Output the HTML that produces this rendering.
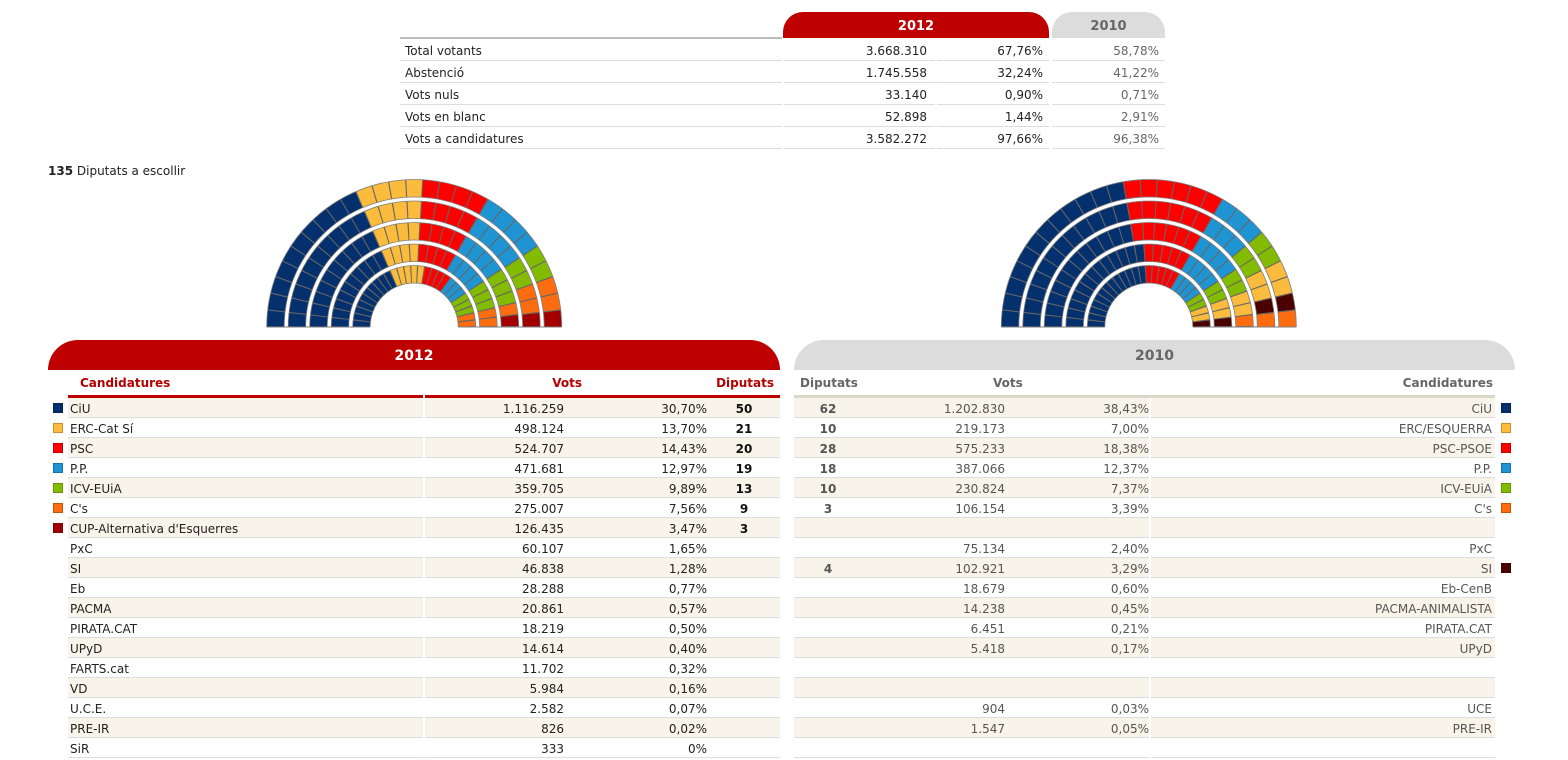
<!DOCTYPE html>
<html><head><meta charset="utf-8">
<style>
html,body{margin:0;padding:0;background:#fff}
body{width:1568px;height:760px;position:relative;overflow:hidden;font-family:"DejaVu Sans","Liberation Sans",Verdana,sans-serif;font-size:12px;color:#222}
.abs{position:absolute}
.tab{position:absolute;top:12px;height:26px;line-height:29px;text-align:center;font-weight:bold;font-size:13px;border-radius:20px 20px 0 0;overflow:hidden}
.tr{position:absolute;left:0;width:1568px;height:22px}
.tr div{position:absolute;top:0;height:21px;line-height:24px;border-bottom:1px solid #dcdcdc;white-space:nowrap;overflow:hidden}
.c1{left:400px;width:377px;padding-left:5px}
.c2{left:784px;width:143px;padding-right:8px;text-align:right}
.c3{left:937px;width:106px;padding-right:6px;text-align:right}
.c4{left:1052px;width:107px;padding-right:6px;text-align:right;color:#666}
.bar{position:absolute;top:340px;height:30px;line-height:33px;text-align:center;font-weight:bold;font-size:14px;border-radius:30px 30px 0 0;overflow:hidden}
.sh{position:absolute;top:370px;height:25px;line-height:27px;font-weight:bold;white-space:nowrap}
.lr,.rr{position:absolute;height:20px}
.lr{left:48px;width:732px}
.rr{left:794px;width:721px;color:#555}
.a,.b{position:absolute;top:0;height:19px;border-bottom:1px solid #ddd}
.lr .a{left:20px;width:355px}
.lr .b{left:377px;width:355px}
.rr .a{left:0;width:355px}
.rr .b{left:357px;width:344px}
.c .a,.c .b{background:#f8f4e9}
.lr span,.rr span{position:absolute;top:0;line-height:22px;white-space:nowrap}
.ln{left:22px}
.lv{right:216px}
.lp{right:73px}
.ld{left:676px;width:40px;text-align:center;font-weight:bold;color:#111}
.rd{left:14px;width:40px;text-align:center;font-weight:bold}
.rv{right:510px}
.rp{right:366px}
.rn{right:23px}
.sq{position:absolute;top:5px;width:10px;height:10px;box-shadow:inset 0 0 0 1px rgba(0,0,0,.22)}
.lr .sq{left:5px}
.rr .sq{left:707px}
</style></head><body>

<!-- top summary table -->
<div class="tab" style="left:783px;width:266px;background:#bf0000;color:#fff">2012</div>
<div class="tab" style="left:1052px;width:113px;background:#dcdcdc;color:#666">2010</div>
<div class="abs" style="left:400px;top:37px;width:382px;height:2px;background:#bbb"></div>

<div class="tr" style="top:39px"><div class="c1">Total votants</div><div class="c2">3.668.310</div><div class="c3">67,76%</div><div class="c4">58,78%</div></div>
<div class="tr" style="top:61px"><div class="c1">Abstenció</div><div class="c2">1.745.558</div><div class="c3">32,24%</div><div class="c4">41,22%</div></div>
<div class="tr" style="top:83px"><div class="c1">Vots nuls</div><div class="c2">33.140</div><div class="c3">0,90%</div><div class="c4">0,71%</div></div>
<div class="tr" style="top:105px"><div class="c1">Vots en blanc</div><div class="c2">52.898</div><div class="c3">1,44%</div><div class="c4">2,91%</div></div>
<div class="tr" style="top:127px"><div class="c1">Vots a candidatures</div><div class="c2">3.582.272</div><div class="c3">97,66%</div><div class="c4">96,38%</div></div>

<div class="abs" style="left:48px;top:164px;line-height:14px;white-space:nowrap"><b>135</b> Diputats a escollir</div>

<!-- parliament charts -->
<svg class="abs" style="left:0;top:0" width="1568" height="340" viewBox="0 0 1568 340">
<defs>
<path id="p1" d="M-138.75 0A138.75 138.75 0 0 1 138.75 0" pathLength="27"/>
<path id="p2" d="M-117.25 0A117.25 117.25 0 0 1 117.25 0" pathLength="27"/>
<path id="p3" d="M-95.75 0A95.75 95.75 0 0 1 95.75 0" pathLength="27"/>
<path id="p4" d="M-74.25 0A74.25 74.25 0 0 1 74.25 0" pathLength="27"/>
<path id="p5" d="M-52.75 0A52.75 52.75 0 0 1 52.75 0" pathLength="27"/>
<path id="ol" d="M-147.5 0A147.5 147.5 0 0 1 147.5 0M-130 0A130 130 0 0 1 130 0M-126 0A126 126 0 0 1 126 0M-108.5 0A108.5 108.5 0 0 1 108.5 0M-104.5 0A104.5 104.5 0 0 1 104.5 0M-87 0A87 87 0 0 1 87 0M-83 0A83 83 0 0 1 83 0M-65.5 0A65.5 65.5 0 0 1 65.5 0M-61.5 0A61.5 61.5 0 0 1 61.5 0M-44 0A44 44 0 0 1 44 0"/>
<g id="ticks" stroke="#666" stroke-width="17.5" fill="none">
<use href="#p1" stroke-dasharray="0.068 0.932" stroke-dashoffset="0.034"/>
<use href="#p2" stroke-dasharray="0.081 0.919" stroke-dashoffset="0.0405"/>
<use href="#p3" stroke-dasharray="0.099 0.901" stroke-dashoffset="0.0495"/>
<use href="#p4" stroke-dasharray="0.127 0.873" stroke-dashoffset="0.0635"/>
<use href="#p5" stroke-dasharray="0.179 0.821" stroke-dashoffset="0.0895"/>
</g>
</defs>

<!-- 2012 -->
<g transform="translate(414.2 327)" fill="none" stroke-width="17.5">
<use href="#p1" stroke="#04306e" stroke-dasharray="10 100"/>
<use href="#p1" stroke="#fbbb3d" stroke-dasharray="0 10 4 100"/>
<use href="#p1" stroke="#fe0000" stroke-dasharray="0 14 4 100"/>
<use href="#p1" stroke="#1e94d2" stroke-dasharray="0 18 4 100"/>
<use href="#p1" stroke="#82bb00" stroke-dasharray="0 22 2 100"/>
<use href="#p1" stroke="#fd6c0f" stroke-dasharray="0 24 2 100"/>
<use href="#p1" stroke="#a20000" stroke-dasharray="0 26 1 100"/>
<use href="#p2" stroke="#04306e" stroke-dasharray="10 100"/>
<use href="#p2" stroke="#fbbb3d" stroke-dasharray="0 10 4 100"/>
<use href="#p2" stroke="#fe0000" stroke-dasharray="0 14 4 100"/>
<use href="#p2" stroke="#1e94d2" stroke-dasharray="0 18 4 100"/>
<use href="#p2" stroke="#82bb00" stroke-dasharray="0 22 2 100"/>
<use href="#p2" stroke="#fd6c0f" stroke-dasharray="0 24 2 100"/>
<use href="#p2" stroke="#a20000" stroke-dasharray="0 26 1 100"/>
<use href="#p3" stroke="#04306e" stroke-dasharray="10 100"/>
<use href="#p3" stroke="#fbbb3d" stroke-dasharray="0 10 4 100"/>
<use href="#p3" stroke="#fe0000" stroke-dasharray="0 14 4 100"/>
<use href="#p3" stroke="#1e94d2" stroke-dasharray="0 18 4 100"/>
<use href="#p3" stroke="#82bb00" stroke-dasharray="0 22 3 100"/>
<use href="#p3" stroke="#fd6c0f" stroke-dasharray="0 25 1 100"/>
<use href="#p3" stroke="#a20000" stroke-dasharray="0 26 1 100"/>
<use href="#p4" stroke="#04306e" stroke-dasharray="10 100"/>
<use href="#p4" stroke="#fbbb3d" stroke-dasharray="0 10 4 100"/>
<use href="#p4" stroke="#fe0000" stroke-dasharray="0 14 4 100"/>
<use href="#p4" stroke="#1e94d2" stroke-dasharray="0 18 4 100"/>
<use href="#p4" stroke="#82bb00" stroke-dasharray="0 22 3 100"/>
<use href="#p4" stroke="#fd6c0f" stroke-dasharray="0 25 2 100"/>
<use href="#p5" stroke="#04306e" stroke-dasharray="10 100"/>
<use href="#p5" stroke="#fbbb3d" stroke-dasharray="0 10 5 100"/>
<use href="#p5" stroke="#fe0000" stroke-dasharray="0 15 4 100"/>
<use href="#p5" stroke="#1e94d2" stroke-dasharray="0 19 3 100"/>
<use href="#p5" stroke="#82bb00" stroke-dasharray="0 22 3 100"/>
<use href="#p5" stroke="#fd6c0f" stroke-dasharray="0 25 2 100"/>
<use href="#ticks"/>
<use href="#ol" stroke="#7d7d7d" stroke-width="0.8"/>
<path d="M-147.5 0H-44M44 0H147.5" stroke="#7d7d7d" stroke-width="1"/>
</g>

<!-- 2010 -->
<g transform="translate(1148.8 327)" fill="none" stroke-width="17.5">
<use href="#p1" stroke="#04306e" stroke-dasharray="12 100"/>
<use href="#p1" stroke="#fe0000" stroke-dasharray="0 12 6 100"/>
<use href="#p1" stroke="#1e94d2" stroke-dasharray="0 18 3 100"/>
<use href="#p1" stroke="#82bb00" stroke-dasharray="0 21 2 100"/>
<use href="#p1" stroke="#fbbb3d" stroke-dasharray="0 23 2 100"/>
<use href="#p1" stroke="#4b0000" stroke-dasharray="0 25 1 100"/>
<use href="#p1" stroke="#fd6c0f" stroke-dasharray="0 26 1 100"/>
<use href="#p2" stroke="#04306e" stroke-dasharray="12 100"/>
<use href="#p2" stroke="#fe0000" stroke-dasharray="0 12 6 100"/>
<use href="#p2" stroke="#1e94d2" stroke-dasharray="0 18 3 100"/>
<use href="#p2" stroke="#82bb00" stroke-dasharray="0 21 2 100"/>
<use href="#p2" stroke="#fbbb3d" stroke-dasharray="0 23 2 100"/>
<use href="#p2" stroke="#4b0000" stroke-dasharray="0 25 1 100"/>
<use href="#p2" stroke="#fd6c0f" stroke-dasharray="0 26 1 100"/>
<use href="#p3" stroke="#04306e" stroke-dasharray="12 100"/>
<use href="#p3" stroke="#fe0000" stroke-dasharray="0 12 6 100"/>
<use href="#p3" stroke="#1e94d2" stroke-dasharray="0 18 4 100"/>
<use href="#p3" stroke="#82bb00" stroke-dasharray="0 22 2 100"/>
<use href="#p3" stroke="#fbbb3d" stroke-dasharray="0 24 2 100"/>
<use href="#p3" stroke="#fd6c0f" stroke-dasharray="0 26 1 100"/>
<use href="#p4" stroke="#04306e" stroke-dasharray="13 100"/>
<use href="#p4" stroke="#fe0000" stroke-dasharray="0 13 5 100"/>
<use href="#p4" stroke="#1e94d2" stroke-dasharray="0 18 4 100"/>
<use href="#p4" stroke="#82bb00" stroke-dasharray="0 22 2 100"/>
<use href="#p4" stroke="#fbbb3d" stroke-dasharray="0 24 2 100"/>
<use href="#p4" stroke="#4b0000" stroke-dasharray="0 26 1 100"/>
<use href="#p5" stroke="#04306e" stroke-dasharray="13 100"/>
<use href="#p5" stroke="#fe0000" stroke-dasharray="0 13 5 100"/>
<use href="#p5" stroke="#1e94d2" stroke-dasharray="0 18 4 100"/>
<use href="#p5" stroke="#82bb00" stroke-dasharray="0 22 2 100"/>
<use href="#p5" stroke="#fbbb3d" stroke-dasharray="0 24 2 100"/>
<use href="#p5" stroke="#4b0000" stroke-dasharray="0 26 1 100"/>
<use href="#ticks"/>
<use href="#ol" stroke="#7d7d7d" stroke-width="0.8"/>
<path d="M-147.5 0H-44M44 0H147.5" stroke="#7d7d7d" stroke-width="1"/>
</g>
</svg>

<!-- left big table -->
<div class="bar" style="left:48px;width:732px;background:#bf0000;color:#fff">2012</div>
<div class="sh" style="left:80px;color:#b30000">Candidatures</div>
<div class="sh" style="left:482px;width:100px;text-align:right;color:#b30000">Vots</div>
<div class="sh" style="left:674px;width:100px;text-align:right;color:#b30000">Diputats</div>
<div class="abs" style="left:68px;top:395px;width:355px;height:3px;background:#bf0000"></div>
<div class="abs" style="left:425px;top:395px;width:355px;height:3px;background:#bf0000"></div>

<div class="lr c" style="top:398px"><div class="a"></div><div class="b"></div><i class="sq" style="background:#04306e"></i><span class="ln">CiU</span><span class="lv">1.116.259</span><span class="lp">30,70%</span><span class="ld">50</span></div>
<div class="lr" style="top:418px"><div class="a"></div><div class="b"></div><i class="sq" style="background:#fbbb3d"></i><span class="ln">ERC-Cat Sí</span><span class="lv">498.124</span><span class="lp">13,70%</span><span class="ld">21</span></div>
<div class="lr c" style="top:438px"><div class="a"></div><div class="b"></div><i class="sq" style="background:#fe0000"></i><span class="ln">PSC</span><span class="lv">524.707</span><span class="lp">14,43%</span><span class="ld">20</span></div>
<div class="lr" style="top:458px"><div class="a"></div><div class="b"></div><i class="sq" style="background:#1e94d2"></i><span class="ln">P.P.</span><span class="lv">471.681</span><span class="lp">12,97%</span><span class="ld">19</span></div>
<div class="lr c" style="top:478px"><div class="a"></div><div class="b"></div><i class="sq" style="background:#82bb00"></i><span class="ln">ICV-EUiA</span><span class="lv">359.705</span><span class="lp">9,89%</span><span class="ld">13</span></div>
<div class="lr" style="top:498px"><div class="a"></div><div class="b"></div><i class="sq" style="background:#fd6c0f"></i><span class="ln">C's</span><span class="lv">275.007</span><span class="lp">7,56%</span><span class="ld">9</span></div>
<div class="lr c" style="top:518px"><div class="a"></div><div class="b"></div><i class="sq" style="background:#a20000"></i><span class="ln">CUP-Alternativa d'Esquerres</span><span class="lv">126.435</span><span class="lp">3,47%</span><span class="ld">3</span></div>
<div class="lr" style="top:538px"><div class="a"></div><div class="b"></div><span class="ln">PxC</span><span class="lv">60.107</span><span class="lp">1,65%</span></div>
<div class="lr c" style="top:558px"><div class="a"></div><div class="b"></div><span class="ln">SI</span><span class="lv">46.838</span><span class="lp">1,28%</span></div>
<div class="lr" style="top:578px"><div class="a"></div><div class="b"></div><span class="ln">Eb</span><span class="lv">28.288</span><span class="lp">0,77%</span></div>
<div class="lr c" style="top:598px"><div class="a"></div><div class="b"></div><span class="ln">PACMA</span><span class="lv">20.861</span><span class="lp">0,57%</span></div>
<div class="lr" style="top:618px"><div class="a"></div><div class="b"></div><span class="ln">PIRATA.CAT</span><span class="lv">18.219</span><span class="lp">0,50%</span></div>
<div class="lr c" style="top:638px"><div class="a"></div><div class="b"></div><span class="ln">UPyD</span><span class="lv">14.614</span><span class="lp">0,40%</span></div>
<div class="lr" style="top:658px"><div class="a"></div><div class="b"></div><span class="ln">FARTS.cat</span><span class="lv">11.702</span><span class="lp">0,32%</span></div>
<div class="lr c" style="top:678px"><div class="a"></div><div class="b"></div><span class="ln">VD</span><span class="lv">5.984</span><span class="lp">0,16%</span></div>
<div class="lr" style="top:698px"><div class="a"></div><div class="b"></div><span class="ln">U.C.E.</span><span class="lv">2.582</span><span class="lp">0,07%</span></div>
<div class="lr c" style="top:718px"><div class="a"></div><div class="b"></div><span class="ln">PRE-IR</span><span class="lv">826</span><span class="lp">0,02%</span></div>
<div class="lr" style="top:738px"><div class="a"></div><div class="b"></div><span class="ln">SiR</span><span class="lv">333</span><span class="lp">0%</span></div>

<!-- right big table -->
<div class="bar" style="left:794px;width:721px;background:#dcdcdc;color:#666">2010</div>
<div class="sh" style="left:800px;color:#666">Diputats</div>
<div class="sh" style="left:993px;color:#666">Vots</div>
<div class="sh" style="left:1293px;width:200px;text-align:right;color:#666">Candidatures</div>
<div class="abs" style="left:794px;top:395px;width:701px;height:3px;background:#dcd7cb"></div>

<div class="rr c" style="top:398px"><div class="a"></div><div class="b"></div><span class="rd">62</span><span class="rv">1.202.830</span><span class="rp">38,43%</span><span class="rn">CiU</span><i class="sq" style="background:#04306e"></i></div>
<div class="rr" style="top:418px"><div class="a"></div><div class="b"></div><span class="rd">10</span><span class="rv">219.173</span><span class="rp">7,00%</span><span class="rn">ERC/ESQUERRA</span><i class="sq" style="background:#fbbb3d"></i></div>
<div class="rr c" style="top:438px"><div class="a"></div><div class="b"></div><span class="rd">28</span><span class="rv">575.233</span><span class="rp">18,38%</span><span class="rn">PSC-PSOE</span><i class="sq" style="background:#fe0000"></i></div>
<div class="rr" style="top:458px"><div class="a"></div><div class="b"></div><span class="rd">18</span><span class="rv">387.066</span><span class="rp">12,37%</span><span class="rn">P.P.</span><i class="sq" style="background:#1e94d2"></i></div>
<div class="rr c" style="top:478px"><div class="a"></div><div class="b"></div><span class="rd">10</span><span class="rv">230.824</span><span class="rp">7,37%</span><span class="rn">ICV-EUiA</span><i class="sq" style="background:#82bb00"></i></div>
<div class="rr" style="top:498px"><div class="a"></div><div class="b"></div><span class="rd">3</span><span class="rv">106.154</span><span class="rp">3,39%</span><span class="rn">C's</span><i class="sq" style="background:#fd6c0f"></i></div>
<div class="rr c" style="top:518px"><div class="a"></div><div class="b"></div></div>
<div class="rr" style="top:538px"><div class="a"></div><div class="b"></div><span class="rv">75.134</span><span class="rp">2,40%</span><span class="rn">PxC</span></div>
<div class="rr c" style="top:558px"><div class="a"></div><div class="b"></div><span class="rd">4</span><span class="rv">102.921</span><span class="rp">3,29%</span><span class="rn">SI</span><i class="sq" style="background:#4b0000"></i></div>
<div class="rr" style="top:578px"><div class="a"></div><div class="b"></div><span class="rv">18.679</span><span class="rp">0,60%</span><span class="rn">Eb-CenB</span></div>
<div class="rr c" style="top:598px"><div class="a"></div><div class="b"></div><span class="rv">14.238</span><span class="rp">0,45%</span><span class="rn">PACMA-ANIMALISTA</span></div>
<div class="rr" style="top:618px"><div class="a"></div><div class="b"></div><span class="rv">6.451</span><span class="rp">0,21%</span><span class="rn">PIRATA.CAT</span></div>
<div class="rr c" style="top:638px"><div class="a"></div><div class="b"></div><span class="rv">5.418</span><span class="rp">0,17%</span><span class="rn">UPyD</span></div>
<div class="rr" style="top:658px"><div class="a"></div><div class="b"></div></div>
<div class="rr c" style="top:678px"><div class="a"></div><div class="b"></div></div>
<div class="rr" style="top:698px"><div class="a"></div><div class="b"></div><span class="rv">904</span><span class="rp">0,03%</span><span class="rn">UCE</span></div>
<div class="rr c" style="top:718px"><div class="a"></div><div class="b"></div><span class="rv">1.547</span><span class="rp">0,05%</span><span class="rn">PRE-IR</span></div>
<div class="rr" style="top:738px"><div class="a"></div><div class="b"></div></div>

</body></html>
